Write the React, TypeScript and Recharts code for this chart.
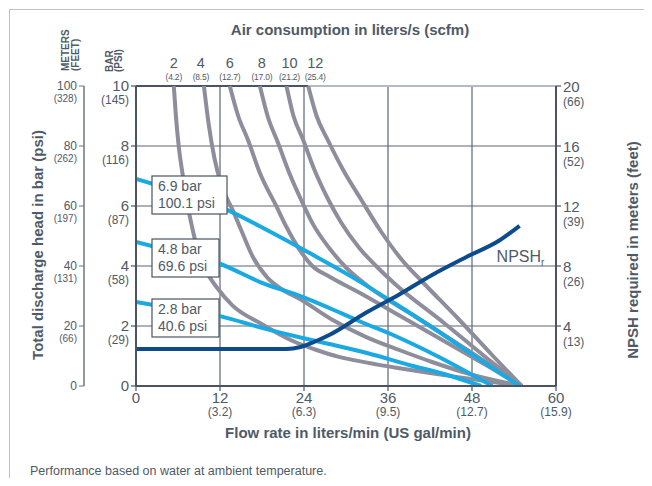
import React from "react";
import { LineChart, Line, XAxis, YAxis, CartesianGrid, ReferenceLine } from "recharts";

// axis ticks and their secondary (imperial) labels
const flowTicks = [0, 12, 24, 36, 48, 60];
const flowGal = ["", "(3.2)", "(6.3)", "(9.5)", "(12.7)", "(15.9)"];
const barTicks = [0, 2, 4, 6, 8, 10];
const barPsi = ["", "(29)", "(58)", "(87)", "(116)", "(145)"];
const meterTicks = [0, 20, 40, 60, 80, 100];
const meterFeet = ["", "(66)", "(131)", "(197)", "(262)", "(328)"];
const npshTicks = [4, 8, 12, 16, 20];
const npshFeet = ["(13)", "(26)", "(39)", "(52)", "(66)"];

// air consumption curves, [flow l/min, head bar]
const airLabels = ["2", "4", "6", "8", "10", "12"];
const airScfm = ["(4.2)", "(8.5)", "(12.7)", "(17.0)", "(21.2)", "(25.4)"];
const air2 = [[5.4, 10], [5.7, 9], [6.1, 8], [6.7, 7], [7.4, 6], [8.2, 5.1], [9.1, 4.3], [10.2, 3.75], [11.5, 3.3], [13.8, 2.68], [17.7, 2.1], [22.4, 1.5], [25.8, 1.2], [29, 0.97], [33, 0.78], [37.4, 0.6], [42, 0.43], [47.4, 0.25], [55.1, 0]];
const air4 = [[9.7, 10], [10.4, 8.7], [11.2, 7.6], [12.2, 6.7], [13.8, 5.87], [15.2, 5.1], [16.7, 4.3], [18.7, 3.63], [21, 3.2], [23.4, 2.9], [28.1, 2.2], [32.9, 1.63], [37.6, 1.2], [42.3, 0.8], [47.2, 0.43], [55.1, 0]];
const air6 = [[13.4, 10], [14.6, 9], [16, 8.2], [17.7, 7.1], [20.1, 5.97], [21.5, 5.3], [23.4, 4.53], [25.2, 4.0], [27.6, 3.65], [32, 3.1], [38, 2.3], [44, 1.5], [50, 0.7], [55.1, 0]];
const air8 = [[17.7, 10], [18.8, 9], [20.3, 8.1], [21.9, 7.1], [23.8, 6.1], [25.2, 5.43], [27.6, 4.6], [30, 3.95], [33, 3.35], [40, 2.3], [48, 1.1], [55.1, 0]];
const air10 = [[21.5, 10], [22.5, 9], [23.8, 8.25], [25.5, 7.2], [27.5, 6.2], [29.3, 5.45], [31.9, 4.6], [34.3, 4.0], [37, 3.4], [44, 2.1], [50, 0.95], [55.1, 0]];
const air12 = [[24.6, 10], [25.8, 9], [27.4, 8.2], [29.6, 7.2], [32.2, 6.2], [35, 5.15], [38, 4.2], [41, 3.45], [46, 2.25], [51, 1.0], [55.1, 0]];
const airCurves = [air2, air4, air6, air8, air10, air12];

// discharge pressure lines (air inlet pressure)
const pressLabels = [["6.9 bar", "100.1 psi"], ["4.8 bar", "69.6 psi"], ["2.8 bar", "40.6 psi"]];
const press69 = [[0, 6.9], [5, 6.55], [10, 6.15], [13, 5.87], [18.7, 5.2], [24.8, 4.43], [30.9, 3.63], [37, 2.75], [43, 1.85], [49, 0.9], [54.8, 0]];
const press48 = [[0, 4.8], [5, 4.5], [11.7, 4.1], [18.1, 3.43], [23.8, 2.97], [27.6, 2.6], [32, 2.15], [37.2, 1.65], [43, 1.0], [50.9, 0]];
const press28 = [[0, 2.8], [5, 2.6], [12, 2.33], [18.1, 1.93], [23.8, 1.6], [27.6, 1.4], [33, 1.1], [39, 0.7], [44, 0.4], [49.3, 0]];
const pressLines = [press69, press48, press28];

// NPSHr, [flow l/min, meters]
const npsh = [[0, 2.47], [21.5, 2.47], [23.5, 2.6], [25.5, 2.95], [27.6, 3.4], [32.9, 4.9], [37.6, 6.1], [42.3, 7.4], [47.2, 8.6], [51.9, 9.7], [54.8, 10.67]];

const AXIS = "#4a5462";
const GRID = "#5c6675";
const TEXT = "#4f5a67";
const GRAY = "#8e8d9b";
const BLUE = "#19a9e3";
const NAVY = "#0d4b8d";
const FONT = "'Liberation Sans', Arial, sans-serif";

// small nudges so the crowded air labels don't collide
const airLabelShift = [0, -3, 0, 2, 3, 7];

const pts = (arr: number[][]) => arr.map(([x, y]) => ({ x, y }));

function FlowTick({ x, y, payload }: any) {
  const i = flowTicks.indexOf(payload.value);
  return (
    <g fontFamily={FONT} fill={TEXT}>
      <text x={x} y={y + 10} textAnchor="middle" fontSize={15}>{payload.value}</text>
      {flowGal[i] ? <text x={x} y={y + 23} textAnchor="middle" fontSize={12}>{flowGal[i]}</text> : null}
    </g>
  );
}

function BarTick({ x, y, payload }: any) {
  const i = barTicks.indexOf(payload.value);
  return (
    <g fontFamily={FONT} fill={TEXT}>
      <text x={x} y={y + 5} textAnchor="end" fontSize={15}>{payload.value}</text>
      {barPsi[i] ? <text x={x} y={y + 18} textAnchor="end" fontSize={12}>{barPsi[i]}</text> : null}
    </g>
  );
}

function MeterTick({ x, y, payload }: any) {
  const i = meterTicks.indexOf(payload.value);
  return (
    <g fontFamily={FONT} fill={TEXT}>
      <text x={x} y={y + 4} textAnchor="end" fontSize={12}>{payload.value}</text>
      {meterFeet[i] ? <text x={x} y={y + 16} textAnchor="end" fontSize={10}>{meterFeet[i]}</text> : null}
    </g>
  );
}

function NpshTick({ x, y, payload }: any) {
  const i = npshTicks.indexOf(payload.value);
  return (
    <g fontFamily={FONT} fill={TEXT}>
      <text x={x} y={y + 6} textAnchor="start" fontSize={15}>{payload.value}</text>
      <text x={x} y={y + 20} textAnchor="start" fontSize={12}>{npshFeet[i]}</text>
    </g>
  );
}

const airLabel = (k: number) => (p: any) => {
  if (p.index !== 0) return <g />;
  const cx = p.x + airLabelShift[k];
  return (
    <g fontFamily={FONT} fill={TEXT} textAnchor="middle">
      <text x={cx} y={p.y - 18} fontSize={14.5}>{airLabels[k]}</text>
      <text x={cx} y={p.y - 6} fontSize={8.5} letterSpacing={-0.2}>{airScfm[k]}</text>
    </g>
  );
};

const pressLabel = (k: number) => (p: any) => {
  if (p.index !== 0) return <g />;
  const bx = p.x + 16;
  const by = p.y - 3;
  const w = k === 0 ? 75 : 67;
  return (
    <g fontFamily={FONT} fill={TEXT}>
      <rect x={bx} y={by} width={w} height={38} fill="#fff" stroke={AXIS} strokeWidth={1.2} />
      <text x={bx + 6} y={by + 15} fontSize={14}>{pressLabels[k][0]}</text>
      <text x={bx + 6} y={by + 32} fontSize={14}>{pressLabels[k][1]}</text>
    </g>
  );
};

const npshLabel = (p: any) => {
  if (p.index !== npsh.length - 1) return <g />;
  return (
    <text x={p.x - 23} y={p.y + 36} fontFamily={FONT} fill={TEXT} fontSize={16}>
      NPSH<tspan fontSize={10} dy={4}>r</tspan>
    </text>
  );
};

export default function App() {
  return (
    <div style={{ position: "relative", width: 652, height: 486, margin: -8, background: "#fff", fontFamily: FONT }}>
      <div style={{ position: "absolute", left: 9, top: 9, width: 634, height: 490, border: "1px solid #bcc2ca" }} />
      <LineChart width={652} height={486} margin={{ top: 86, right: 56, bottom: 60, left: 44 }}>
        <CartesianGrid yAxisId="bar" stroke={GRID} strokeWidth={1.2} />
        <XAxis
          type="number"
          dataKey="x"
          domain={[0, 60]}
          ticks={flowTicks}
          height={40}
          tick={<FlowTick />}
          tickSize={5}
          axisLine={{ stroke: AXIS, strokeWidth: 2 }}
          tickLine={{ stroke: AXIS, strokeWidth: 1.2 }}
          allowDataOverflow
        />
        <YAxis
          yAxisId="bar"
          type="number"
          domain={[0, 10]}
          ticks={barTicks}
          width={52}
          tick={<BarTick />}
          tickSize={5}
          axisLine={{ stroke: AXIS, strokeWidth: 2 }}
          tickLine={{ stroke: AXIS, strokeWidth: 1.2 }}
          allowDataOverflow
        />
        <YAxis
          yAxisId="meter"
          type="number"
          domain={[0, 100]}
          ticks={meterTicks}
          width={40}
          tick={<MeterTick />}
          tickSize={5}
          axisLine={{ stroke: "#6b7583", strokeWidth: 1.5 }}
          tickLine={{ stroke: "#6b7583", strokeWidth: 1 }}
          allowDataOverflow
        />
        <YAxis
          yAxisId="npsh"
          orientation="right"
          type="number"
          domain={[0, 20]}
          ticks={npshTicks}
          width={40}
          tick={<NpshTick />}
          tickSize={5}
          axisLine={{ stroke: AXIS, strokeWidth: 2 }}
          tickLine={{ stroke: AXIS, strokeWidth: 1.2 }}
          allowDataOverflow
        />
        <ReferenceLine
          yAxisId="bar"
          segment={[{ x: air12[0][0], y: 10 }, { x: 60, y: 10 }]}
          stroke="#b3bbc5"
          strokeWidth={2}
        />
        <ReferenceLine
          yAxisId="bar"
          segment={[{ x: 0, y: 10 }, { x: air12[0][0], y: 10 }]}
          stroke={AXIS}
          strokeWidth={2}
        />
        {airCurves.map((c, k) => (
          <Line
            key={"air" + k}
            yAxisId="bar"
            data={pts(c)}
            dataKey="y"
            type="monotone"
            stroke={GRAY}
            strokeWidth={4}
            dot={false}
            activeDot={false}
            label={airLabel(k)}
            isAnimationActive={false}
          />
        ))}
        {pressLines.map((c, k) => (
          <Line
            key={"p" + k}
            yAxisId="bar"
            data={pts(c)}
            dataKey="y"
            type="monotone"
            stroke={BLUE}
            strokeWidth={4}
            dot={false}
            activeDot={false}
            label={pressLabel(k)}
            isAnimationActive={false}
          />
        ))}
        <Line
          yAxisId="npsh"
          data={pts(npsh)}
          dataKey="y"
          type="monotone"
          stroke={NAVY}
          strokeWidth={4}
          dot={false}
          activeDot={false}
          label={npshLabel}
          isAnimationActive={false}
        />
      </LineChart>
      <svg width={652} height={486} style={{ position: "absolute", left: 0, top: 0, pointerEvents: "none" }} fontFamily={FONT} fill={TEXT}>
        <text x={350} y={35} textAnchor="middle" fontSize={15} fontWeight="bold">Air consumption in liters/s (scfm)</text>
        <text x={348} y={438} textAnchor="middle" fontSize={15} fontWeight="bold">Flow rate in liters/min (US gal/min)</text>
        <text transform="translate(43,245) rotate(-90)" textAnchor="middle" fontSize={15} fontWeight="bold">Total discharge head in bar (psi)</text>
        <text transform="translate(638,250) rotate(-90)" textAnchor="middle" fontSize={15} fontWeight="bold">NPSH required in meters (feet)</text>
        <text transform="translate(69,71) rotate(-90)" fontSize={10} fontWeight="bold">METERS</text>
        <text transform="translate(79,71) rotate(-90)" fontSize={10} fontWeight="bold">(FEET)</text>
        <text transform="translate(113,72) rotate(-90)" fontSize={10} fontWeight="bold">BAR</text>
        <text transform="translate(122,72) rotate(-90)" fontSize={10} fontWeight="bold">(PSI)</text>
        <text x={30} y={475} fontSize={12.5}>Performance based on water at ambient temperature.</text>
      </svg>
    </div>
  );
}
